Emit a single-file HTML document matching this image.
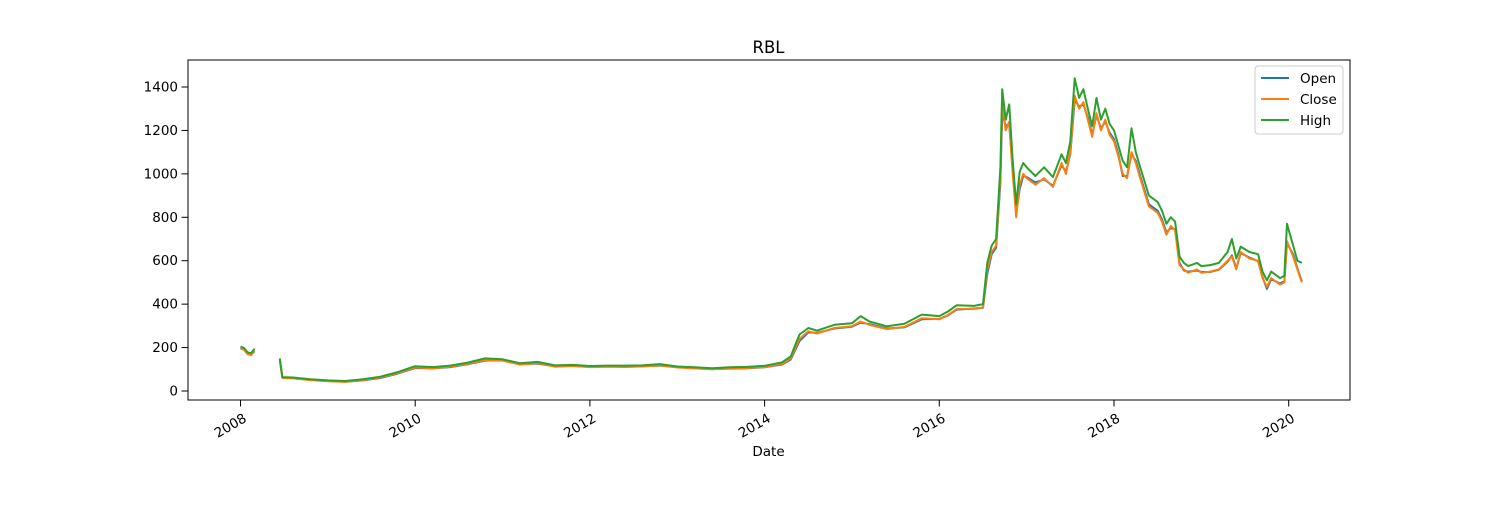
<!DOCTYPE html>
<html><head><meta charset="utf-8"><style>
body{margin:0;background:#fff;}
svg text{font-family:"DejaVu Sans","Liberation Sans",sans-serif;fill:#000;}
</style></head><body>
<svg id="chart" width="1500" height="500" xmlns="http://www.w3.org/2000/svg">
<rect width="1500" height="500" fill="#fff"/>
<text x="768.5" y="53" font-size="16.5" text-anchor="middle">RBL</text>
<g id="plot"></g>
<rect x="188" y="60" width="1162" height="340" fill="none" stroke="#000" stroke-width="1"/>
<g id="axes"></g>
<text x="768.5" y="456" font-size="13.5" text-anchor="middle">Date</text>
<g>
<rect x="1255" y="66" width="88" height="68" rx="3" fill="#fff" fill-opacity="0.8" stroke="#ccc"/>
<line x1="1261" y1="78" x2="1289" y2="78" stroke="#1f77b4" stroke-width="2"/>
<text x="1300" y="83" font-size="13.5">Open</text>
<line x1="1261" y1="99" x2="1289" y2="99" stroke="#ff7f0e" stroke-width="2"/>
<text x="1300" y="104" font-size="13.5">Close</text>
<line x1="1261" y1="120" x2="1289" y2="120" stroke="#2ca02c" stroke-width="2"/>
<text x="1300" y="125" font-size="13.5">High</text>
</g>
</svg>
<script>
const dates=[2008.0,2008.04,2008.08,2008.12,2008.16,null,2008.45,2008.48,2008.6,2008.8,2009.0,2009.2,2009.4,2009.6,2009.8,2010.0,2010.2,2010.4,2010.6,2010.8,2011.0,2011.2,2011.4,2011.6,2011.8,2012.0,2012.2,2012.4,2012.6,2012.8,2013.0,2013.2,2013.4,2013.6,2013.8,2014.0,2014.2,2014.3,2014.4,2014.5,2014.6,2014.8,2015.0,2015.1,2015.2,2015.4,2015.6,2015.8,2016.0,2016.1,2016.2,2016.4,2016.5,2016.55,2016.6,2016.65,2016.7,2016.72,2016.76,2016.8,2016.84,2016.88,2016.92,2016.96,2017.0,2017.1,2017.2,2017.3,2017.4,2017.45,2017.5,2017.55,2017.6,2017.65,2017.7,2017.75,2017.8,2017.85,2017.9,2017.95,2018.0,2018.05,2018.1,2018.15,2018.2,2018.25,2018.3,2018.4,2018.5,2018.55,2018.6,2018.65,2018.7,2018.75,2018.8,2018.85,2018.95,2019.0,2019.1,2019.2,2019.3,2019.35,2019.4,2019.45,2019.55,2019.65,2019.7,2019.75,2019.8,2019.9,2019.95,2019.98,2020.05,2020.1,2020.15];
const closeVals=[195,190,170,165,185,null,140,60,58,50,45,42,50,62,82,108,105,112,125,142,140,122,128,112,115,110,112,112,113,118,108,104,100,104,106,110,125,150,240,275,265,290,298,320,305,285,295,335,330,350,378,378,385,560,640,670,990,1320,1200,1240,1000,800,950,1000,980,950,980,940,1050,1000,1100,1360,1300,1330,1250,1170,1280,1200,1250,1180,1150,1080,1000,980,1100,1050,980,850,820,780,720,760,740,580,560,545,560,545,550,560,600,620,560,640,610,600,520,480,520,490,500,690,620,560,500];
const openVals=[198,192,175,168,182,null,145,62,60,52,46,43,49,60,80,106,104,110,123,140,142,124,126,114,116,111,113,111,114,117,110,105,101,103,105,109,122,145,230,270,268,288,296,315,308,288,293,330,332,348,375,380,383,540,630,660,960,1280,1220,1230,1020,820,930,990,985,960,975,945,1040,1010,1090,1340,1310,1320,1260,1180,1270,1210,1240,1190,1160,1090,990,990,1090,1060,990,860,830,790,730,750,745,590,555,550,555,548,548,558,595,625,565,635,615,598,525,470,515,495,505,680,630,565,505];
const highVals=[205,198,178,174,195,null,150,64,62,54,49,46,54,66,87,114,110,117,131,150,146,128,134,118,120,115,117,117,118,124,113,109,105,109,111,116,132,160,260,290,278,305,312,345,320,298,310,352,345,366,395,392,400,590,670,700,1030,1390,1250,1320,1060,860,1010,1050,1030,990,1030,985,1090,1050,1150,1440,1350,1390,1300,1220,1350,1250,1300,1230,1200,1130,1060,1030,1210,1100,1030,900,870,830,770,800,780,620,590,575,590,575,580,590,640,700,610,665,640,630,550,510,550,520,530,770,670,600,590];
const xTicks=[2008,2010,2012,2014,2016,2018,2020];
const yTicks=[0,200,400,600,800,1000,1200,1400];

function xs(t){return 240.5+(t-2008)*87.35;}
function ys(v){return 391-v*0.21714;}
const NS="http://www.w3.org/2000/svg";
function pathFor(vals){
  let d="",pen=false;
  for(let i=0;i<dates.length;i++){
    if(dates[i]===null||vals[i]===null){pen=false;continue;}
    d+=(pen?"L":"M")+xs(dates[i]).toFixed(1)+" "+ys(vals[i]).toFixed(1)+" ";pen=true;
  }
  return d;
}
const plot=document.getElementById("plot");
[["open",openVals,"#1f77b4"],["close",closeVals,"#ff7f0e"],["high",highVals,"#2ca02c"]].forEach(s=>{
  const p=document.createElementNS(NS,"path");
  p.setAttribute("d",pathFor(s[1]));
  p.setAttribute("fill","none");p.setAttribute("stroke",s[2]);p.setAttribute("stroke-width","2");
  p.setAttribute("stroke-linejoin","round");
  
  
  plot.appendChild(p);
});
const axes=document.getElementById("axes");
yTicks.forEach(v=>{
  const y=ys(v);
  const l=document.createElementNS(NS,"line");
  l.setAttribute("x1",181.5);l.setAttribute("x2",188);l.setAttribute("y1",y);l.setAttribute("y2",y);l.setAttribute("stroke","#000");
  
  
  axes.appendChild(l);
  const t=document.createElementNS(NS,"text");
  t.setAttribute("x",178);t.setAttribute("y",y+4.5);t.setAttribute("font-size","13.5");t.setAttribute("text-anchor","end");
  t.textContent=v;
  
  
  axes.appendChild(t);
});
xTicks.forEach(v=>{
  const x=xs(v);
  const l=document.createElementNS(NS,"line");
  l.setAttribute("x1",x);l.setAttribute("x2",x);l.setAttribute("y1",400);l.setAttribute("y2",406.5);l.setAttribute("stroke","#000");
  
  
  axes.appendChild(l);
  const t=document.createElementNS(NS,"text");
  t.setAttribute("font-size","13.5");t.setAttribute("text-anchor","end");
  t.setAttribute("transform","translate("+(x+3)+",414) rotate(-30)");
  t.setAttribute("x",0);t.setAttribute("y",8);
  t.textContent=v;
  
  
  axes.appendChild(t);
});
</script>
</body></html>
